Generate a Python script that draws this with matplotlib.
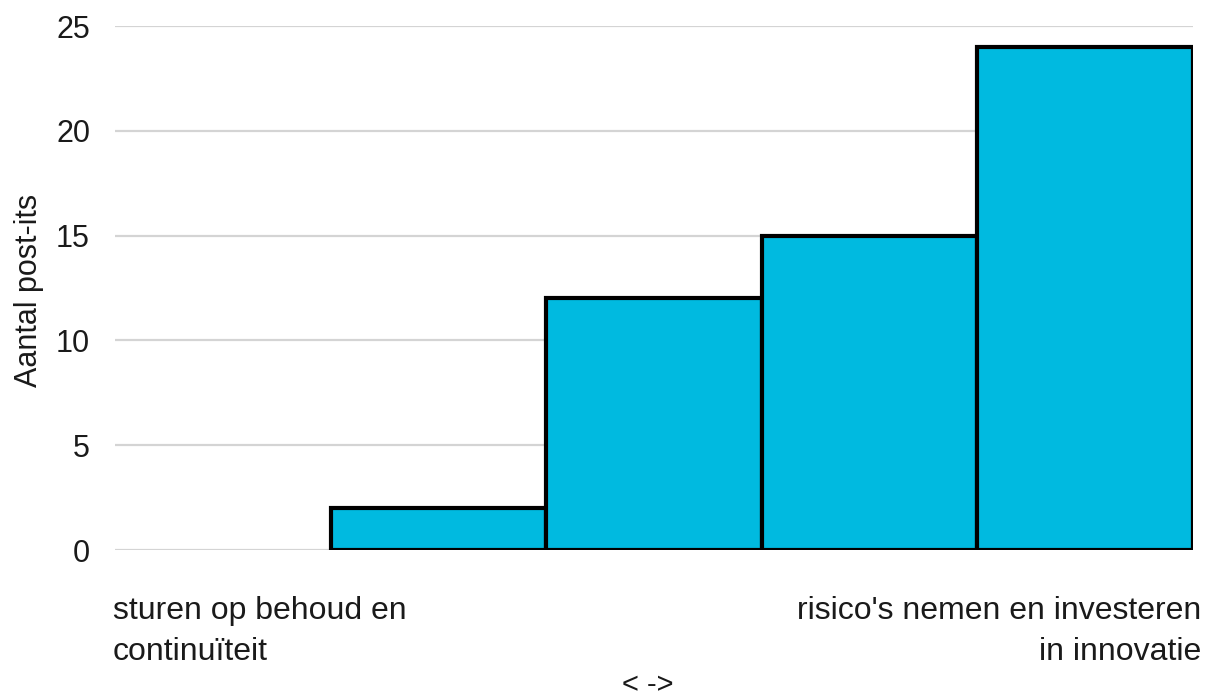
import matplotlib
matplotlib.use('Agg')
import matplotlib.pyplot as plt

# data
categories = [1, 2, 3, 4, 5]
values = [0, 2, 12, 15, 24]
y_ticks = [0, 5, 10, 15, 20, 25]
left_label = 'sturen op behoud en\ncontinuïteit'
right_label = "risico's nemen en investeren\nin innovatie"
middle_label = '< ->'
y_label = 'Aantal post-its'

plt.rcParams['font.family'] = ['Liberation Sans', 'DejaVu Sans']

fig = plt.figure(figsize=(12.11, 7.0), dpi=100)
ax = fig.add_axes([115 / 1211, 150 / 700, (1193 - 115) / 1211, (550 - 26) / 700])

# bars touch each other, no outline on empty bars
edges = ['black' if v > 0 else 'none' for v in values]
ax.bar(categories, values, width=1.0, color='#00BAE0',
       edgecolor=edges, linewidth=3, zorder=3)

ax.set_xlim(categories[0] - 0.5, categories[-1] + 0.5)
ax.set_ylim(0, 25)
ax.set_yticks(y_ticks)
ax.set_xticks([])
ax.grid(axis='y', color='#D4D4D4', linewidth=1.6, zorder=0)
ax.tick_params(axis='y', length=0, pad=18, labelsize=22, labelcolor='#1a1a1a')
for s in ax.spines.values():
    s.set_visible(False)

fig.text(29 / 1211, 1 - 290 / 700, y_label, rotation=90, ha='center', va='center',
         fontsize=22, color='#1a1a1a')

fig.text(113 / 1211, 1 - 596 / 700, left_label, ha='left', va='top',
         fontsize=23, color='#1a1a1a', linespacing=1.5)
fig.text(1201 / 1211, 1 - 596 / 700, right_label, ha='right', va='top',
         fontsize=23, color='#1a1a1a', linespacing=1.5, multialignment='right')
fig.text(648 / 1211, 1 - 685 / 700, middle_label, ha='center', va='center',
         fontsize=21, color='#1a1a1a')

fig.savefig('out.png', dpi=100)
